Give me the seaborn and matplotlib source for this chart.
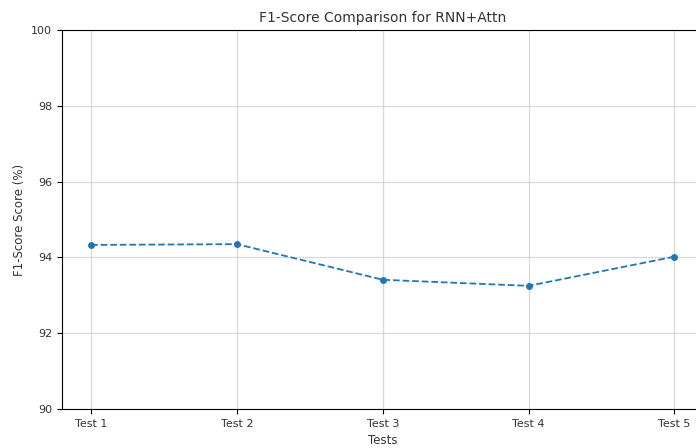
import pandas as pd
import matplotlib
matplotlib.use("Agg")
import matplotlib.pyplot as plt
import seaborn as sns

# Values
tests = ['Test 1', 'Test 2', 'Test 3', 'Test 4', 'Test 5']
f1_scores = [94.33, 94.35, 93.41, 93.25, 94.02]
y_ticks = [90, 92, 94, 96, 98, 100]

df = pd.DataFrame({'test': tests, 'f1': f1_scores})

fig = plt.figure(figsize=(6.96, 4.48), dpi=100)
# the reference is cropped on the right, so the axes run past the figure edge
ax = fig.add_axes([0.089, 0.087, 0.922, 0.846])

sns.lineplot(data=df, x='test', y='f1', marker='o', linestyle='--',
             color='#1f77b4', markersize=5, markeredgewidth=0, linewidth=1.3, ax=ax)

ax.set_ylim(90, 100)
ax.set_yticks(y_ticks)
ax.set_xlim(-0.2, 4.2)
ax.grid(True, color='#d0d0d0', linewidth=0.9, alpha=0.8)
ax.set_title('F1-Score Comparison for RNN+Attn', fontsize=10, color='#333333')
ax.set_xlabel('Tests', fontsize=8.5, color='#333333')
ax.set_ylabel('F1-Score Score (%)', fontsize=8.5, color='#333333')
ax.tick_params(labelsize=8, labelcolor='#333333')

fig.savefig('out.png', dpi=100)
